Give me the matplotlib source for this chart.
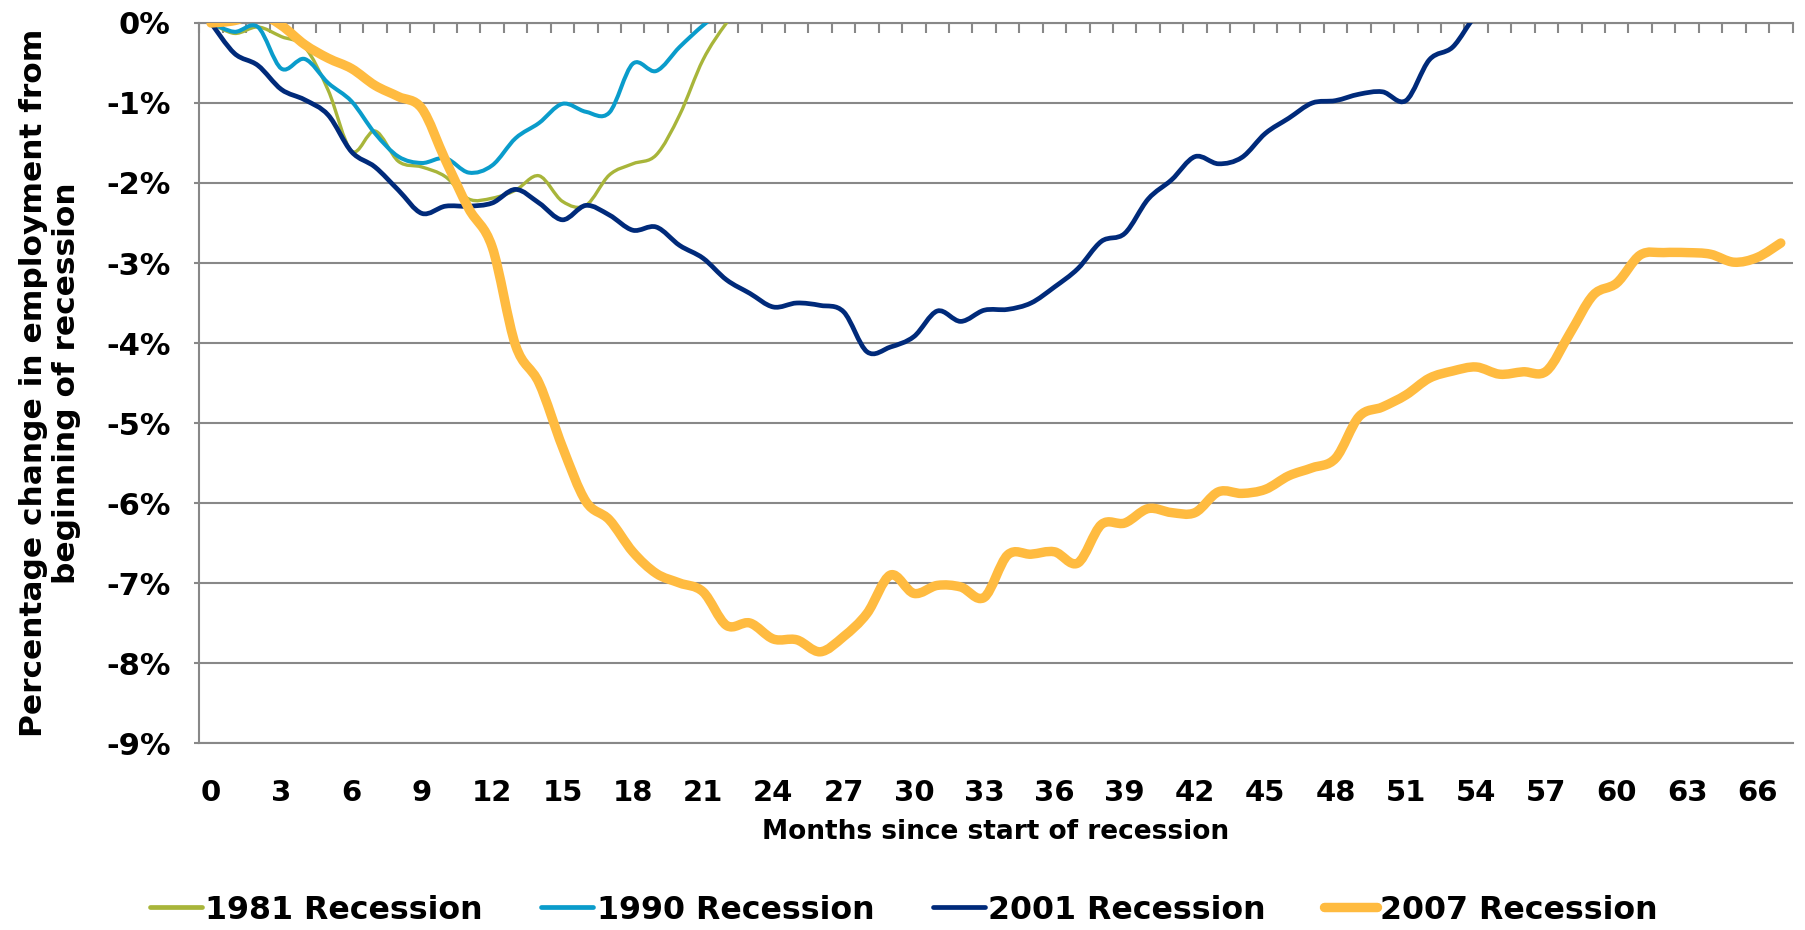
import numpy as np
import matplotlib
matplotlib.use("Agg")
import matplotlib.pyplot as plt
from matplotlib.path import Path
from matplotlib.patches import PathPatch
from matplotlib.lines import Line2D

# Percent change in employment since the start of each recession, by month
rec_1981 = [0, -0.13, -0.05, -0.17, -0.30, -0.84, -1.60, -1.35, -1.73, -1.80,
            -1.92, -2.20, -2.19, -2.09, -1.91, -2.23, -2.28, -1.90, -1.76, -1.65,
            -1.15, -0.46, 0.0, 0.35]
rec_1990 = [0, -0.11, -0.05, -0.57, -0.45, -0.75, -0.98, -1.38, -1.67, -1.75,
            -1.69, -1.87, -1.78, -1.44, -1.25, -1.01, -1.11, -1.12, -0.51, -0.60,
            -0.30, -0.03, 0.2, 0.45]
rec_2001 = [0, -0.38, -0.53, -0.83, -0.96, -1.15, -1.61, -1.80, -2.09, -2.38,
            -2.29, -2.29, -2.25, -2.08, -2.25, -2.46, -2.28, -2.40, -2.59, -2.55,
            -2.78, -2.94, -3.21, -3.38, -3.55, -3.50, -3.53, -3.61, -4.11, -4.05,
            -3.92, -3.60, -3.73, -3.59, -3.58, -3.50, -3.30, -3.07, -2.73, -2.63,
            -2.20, -1.96, -1.67, -1.76, -1.68, -1.38, -1.19, -1.00, -0.97, -0.89,
            -0.86, -0.97, -0.46, -0.30, 0.1, 0.3]
rec_2007 = [0, 0.03, 0.12, -0.03, -0.27, -0.44, -0.57, -0.78, -0.92, -1.07,
            -1.71, -2.32, -2.80, -4.03, -4.50, -5.30, -5.98, -6.21, -6.61, -6.88,
            -7.00, -7.11, -7.53, -7.50, -7.70, -7.71, -7.86, -7.67, -7.38, -6.90,
            -7.13, -7.03, -7.05, -7.18, -6.65, -6.64, -6.61, -6.75, -6.27, -6.25,
            -6.07, -6.12, -6.12, -5.86, -5.88, -5.83, -5.66, -5.56, -5.44, -4.92,
            -4.80, -4.65, -4.44, -4.35, -4.30, -4.39, -4.36, -4.35, -3.88, -3.40,
            -3.25, -2.90, -2.87, -2.87, -2.89, -2.99, -2.93, -2.75]

series_names = ["1981 Recession", "1990 Recession", "2001 Recession", "2007 Recession"]
series_colors = ["#A8B53A", "#0A9CCB", "#002A7A", "#FFBB40"]
series_widths = [2.4, 2.9, 3.4, 6.8]

x_ticks = list(range(0, 67, 3))
y_ticks = [0, -1, -2, -3, -4, -5, -6, -7, -8, -9]
y_tick_labels = ["0%", "-1%", "-2%", "-3%", "-4%", "-5%", "-6%", "-7%", "-8%", "-9%"]


def smooth_path(xs, ys):
    # Excel-style smoothed line: cubic Bezier through every data point
    pts = np.column_stack([xs, ys]).astype(float)
    n = len(pts)
    verts = [pts[0]]
    codes = [Path.MOVETO]
    for i in range(n - 1):
        p0 = pts[max(i - 1, 0)]
        p1 = pts[i]
        p2 = pts[i + 1]
        p3 = pts[min(i + 2, n - 1)]
        verts += [p1 + (p2 - p0) / 6, p2 - (p3 - p1) / 6, p2]
        codes += [Path.CURVE4] * 3
    return Path(verts, codes)


plt.rcParams["font.family"] = "DejaVu Sans"
plt.rcParams["font.weight"] = "bold"

grid_gray = "#888888"
fig = plt.figure(figsize=(18.05, 9.30), dpi=100)
ax = fig.add_axes([199.3 / 1805, 1 - 743 / 930, 1593.2 / 1805, 720 / 930])

ax.set_xlim(-0.5, 67.5)
ax.set_ylim(-9, 0)

for data, color, lw in zip([rec_1981, rec_1990, rec_2001, rec_2007], series_colors, series_widths):
    path = smooth_path(np.arange(len(data)), data)
    ax.add_patch(PathPatch(path, facecolor="none", edgecolor=color, lw=lw,
                           capstyle="round", joinstyle="round", zorder=3))

# gridlines and axes
ax.set_yticks(y_ticks)
ax.set_yticklabels(y_tick_labels)
ax.yaxis.grid(True, color=grid_gray, lw=1.5)
ax.set_axisbelow(True)
ax.tick_params(axis="y", length=3.6, width=1.5, color=grid_gray, pad=17, labelsize=22)

ax.set_xticks(x_ticks)
ax.set_xticklabels([str(v) for v in x_ticks])
ax.set_xticks(np.arange(-0.5, 68, 1), minor=True)
ax.tick_params(axis="x", which="major", length=0, pad=26, labelsize=21)
ax.tick_params(axis="x", which="minor", bottom=False, top=True, direction="in",
               length=7, width=1.5, color=grid_gray)

for side in ["left", "top", "bottom"]:
    ax.spines[side].set_color(grid_gray)
    ax.spines[side].set_linewidth(1.5)
ax.spines["right"].set_visible(False)

ax.set_xlabel("Months since start of recession", fontsize=19, fontweight="bold")
ax.xaxis.set_label_coords(0.5, (743 - 832) / 720)
ax.xaxis.label.set_va("center")

ax.set_ylabel("Percentage change in employment from\nbeginning of recession",
              fontsize=22.5, fontweight="bold")
ax.yaxis.set_label_coords((50 - 199.3) / 1593.2, 0.5)
ax.yaxis.label.set_va("center")

handles = [Line2D([], [], color=c, lw=max(w, 3.4), solid_capstyle="round")
           for c, w in zip(series_colors, series_widths)]
fig.legend(handles, series_names, loc="center", bbox_to_anchor=(0.5006, 1 - 910 / 930),
           ncol=4, frameon=False, prop={"weight": "bold", "size": 22.8},
           handlelength=1.65, handletextpad=0.1, columnspacing=1.85)

fig.savefig("out.png", dpi=100)
